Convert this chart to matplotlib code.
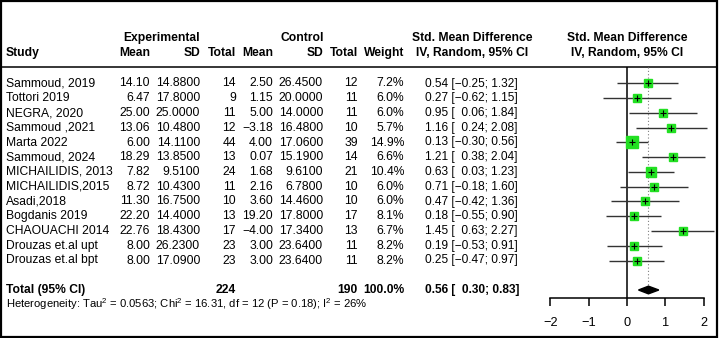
import matplotlib
matplotlib.use("Agg")
import matplotlib.pyplot as plt
import numpy as np

plt.rcParams['font.family'] = ['Liberation Sans', 'DejaVu Sans']
plt.rcParams['mathtext.fontset'] = 'custom'
plt.rcParams['mathtext.rm'] = 'Liberation Sans'
plt.rcParams['mathtext.it'] = 'Liberation Sans'

studies = ["Sammoud, 2019", "Tottori 2019", "NEGRA, 2020", "Sammoud ,2021", "Marta 2022",
           "Sammoud, 2024", "MICHAILIDIS, 2013", "MICHAILIDIS,2015", "Asadi,2018",
           "Bogdanis 2019", "CHAOUACHI 2014", "Drouzas et.al upt", "Drouzas et.al bpt"]
exp_mean = [14.10, 6.47, 25.00, 13.06, 6.00, 18.29, 7.82, 8.72, 11.30, 22.20, 22.76, 8.00, 8.00]
exp_sd = [14.88, 17.80, 25.00, 10.48, 14.11, 13.85, 9.51, 10.43, 16.75, 14.40, 18.43, 26.23, 17.09]
exp_n = [14, 9, 11, 12, 44, 13, 24, 11, 10, 13, 17, 23, 23]
ctl_mean = [2.50, 1.15, 5.00, -3.18, 4.00, 0.07, 1.68, 2.16, 3.60, 19.20, -4.00, 3.00, 3.00]
ctl_sd = [26.45, 20.00, 14.00, 16.48, 17.06, 15.19, 9.61, 6.78, 14.46, 17.80, 17.34, 23.64, 23.64]
ctl_n = [12, 11, 11, 10, 39, 14, 21, 10, 10, 17, 13, 11, 11]
weight = [7.2, 6.0, 6.0, 5.7, 14.9, 6.6, 10.4, 6.0, 6.0, 8.1, 6.7, 8.2, 8.2]
smd = [0.54, 0.27, 0.95, 1.16, 0.13, 1.21, 0.63, 0.71, 0.47, 0.18, 1.45, 0.19, 0.25]
ci_lo = [-0.25, -0.62, 0.06, 0.24, -0.30, 0.38, 0.03, -0.18, -0.42, -0.55, 0.63, -0.53, -0.47]
ci_hi = [1.32, 1.15, 1.84, 2.08, 0.56, 2.04, 1.23, 1.60, 1.36, 0.90, 2.27, 0.91, 0.97]
total_exp = 224
total_ctl = 190
total_w = "100.0%"
pooled = 0.56
pooled_lo = 0.30
pooled_hi = 0.83
het_text = r"Heterogeneity: Tau$^2$ = 0.0563; Chi$^2$ = 16.31, df = 12 (P = 0.18); I$^2$ = 26%"
x_ticks = [-2, -1, 0, 1, 2]

W, H = 720, 338
fig = plt.figure(figsize=(W / 100, H / 100), dpi=100)
bg = fig.add_axes([0, 0, 1, 1])
bg.set_xlim(0, W)
bg.set_ylim(H, 0)
bg.axis('off')

FS = 8.7
FS_CI = 8.6
row0, dy = 83.5, 14.75
n = len(studies)
rows_px = [row0 + i * dy for i in range(n)]
total_px = 290
het_px = 304

def fmt(v, d=2):
    s = f"{v:.{d}f}"
    return s.replace("-", "\u2212")

def ci_str(e, lo, hi):
    lo_s = fmt(lo) if lo < 0 else "\u2007" + fmt(lo)
    return f"{fmt(e)} [{lo_s}; {fmt(hi)}]"

# headers
bg.text(162, 38, "Experimental", ha='center', va='center', fontsize=FS, fontweight='bold')
bg.text(302, 38, "Control", ha='center', va='center', fontsize=FS, fontweight='bold')
bg.text(472, 38, "Std. Mean Difference", ha='center', va='center', fontsize=FS, fontweight='bold')
bg.text(627, 38, "Std. Mean Difference", ha='center', va='center', fontsize=FS, fontweight='bold')
bg.text(6, 53, "Study", ha='left', va='center', fontsize=FS, fontweight='bold')
for x, lab in [(150, "Mean"), (200, "SD"), (236, "Total"), (273, "Mean"), (323, "SD"),
               (358, "Total"), (404, "Weight")]:
    bg.text(x, 53, lab, ha='right', va='center', fontsize=FS, fontweight='bold')
bg.text(472, 53, "IV, Random, 95% CI", ha='center', va='center', fontsize=FS, fontweight='bold')
bg.text(627, 53, "IV, Random, 95% CI", ha='center', va='center', fontsize=FS, fontweight='bold')
bg.plot([2, 716], [67, 67], color='black', lw=1.1)

for i in range(n):
    y = rows_px[i]
    bg.text(6, y, studies[i], ha='left', va='center', fontsize=FS)
    bg.text(150, y, fmt(exp_mean[i]), ha='right', va='center', fontsize=FS)
    bg.text(200, y, fmt(exp_sd[i], 4), ha='right', va='center', fontsize=FS)
    bg.text(236, y, str(exp_n[i]), ha='right', va='center', fontsize=FS)
    bg.text(273, y, fmt(ctl_mean[i]), ha='right', va='center', fontsize=FS)
    bg.text(323, y, fmt(ctl_sd[i], 4), ha='right', va='center', fontsize=FS)
    bg.text(358, y, str(ctl_n[i]), ha='right', va='center', fontsize=FS)
    bg.text(404, y, f"{weight[i]:.1f}%", ha='right', va='center', fontsize=FS)
    bg.text(425, y, ci_str(smd[i], ci_lo[i], ci_hi[i]), ha='left', va='center', fontsize=FS_CI)

y = total_px
bg.text(6, y, "Total (95% CI)", ha='left', va='center', fontsize=FS, fontweight='bold')
bg.text(236, y, str(total_exp), ha='right', va='center', fontsize=FS, fontweight='bold')
bg.text(358, y, str(total_ctl), ha='right', va='center', fontsize=FS, fontweight='bold')
bg.text(404, y, total_w, ha='right', va='center', fontsize=FS, fontweight='bold')
bg.text(425, y, ci_str(pooled, pooled_lo, pooled_hi), ha='left', va='center',
        fontsize=FS_CI, fontweight='bold')
bg.text(6, het_px, het_text, ha='left', va='center', fontsize=8.1)

# border
bg.add_patch(plt.Rectangle((1, 1), 716, 335.5, fill=False, edgecolor='black', lw=1.6))

# forest axes: pixel extents
zero_px, unit_px = 627, 38.3
ax_l, ax_r = 540, 716
ax_t, ax_b = 67, 298
ax = fig.add_axes([ax_l / W, 1 - ax_b / H, (ax_r - ax_l) / W, (ax_b - ax_t) / H])
ax.set_xlim((ax_l - zero_px) / unit_px, (ax_r - zero_px) / unit_px)
ax.set_ylim((ax_b - row0) / dy, (ax_t - row0) / dy)
ax.patch.set_alpha(0)
for s in ['top', 'right', 'left']:
    ax.spines[s].set_visible(False)
ax.spines['bottom'].set_bounds(x_ticks[0], x_ticks[-1])
ax.spines['bottom'].set_linewidth(1.1)
ax.set_yticks([])
ax.set_xticks(x_ticks)
ax.set_xticklabels([fmt(t, 0) for t in x_ticks], fontsize=FS + 0.5)
ax.tick_params(axis='x', length=6, width=1.1, pad=8)

ypos = np.arange(n)
ax.axvline(0, color='black', lw=1.1)
total_row = (total_px - row0) / dy
ax.vlines(pooled, (ax_t - row0) / dy, total_row - 0.35, color='grey', lw=0.8, linestyles=(0, (1, 2)))
ax.hlines(ypos, ci_lo, ci_hi, color='#333333', lw=1.0, zorder=2)
for i in range(n):
    ms = 8.6 * np.sqrt(weight[i] / 14.9)
    ax.plot(smd[i], ypos[i], marker='s', ms=ms, color='#22e022', mec='#22e022', zorder=3, lw=0)
ax.plot(smd, ypos, marker='+', ms=4, color='black', lw=0, mew=0.8, zorder=4)
hd = 0.26
ax.fill([pooled_lo, pooled, pooled_hi, pooled], [total_row, total_row - hd, total_row, total_row + hd],
        color='black', zorder=3)

fig.savefig("out.png", dpi=100)
